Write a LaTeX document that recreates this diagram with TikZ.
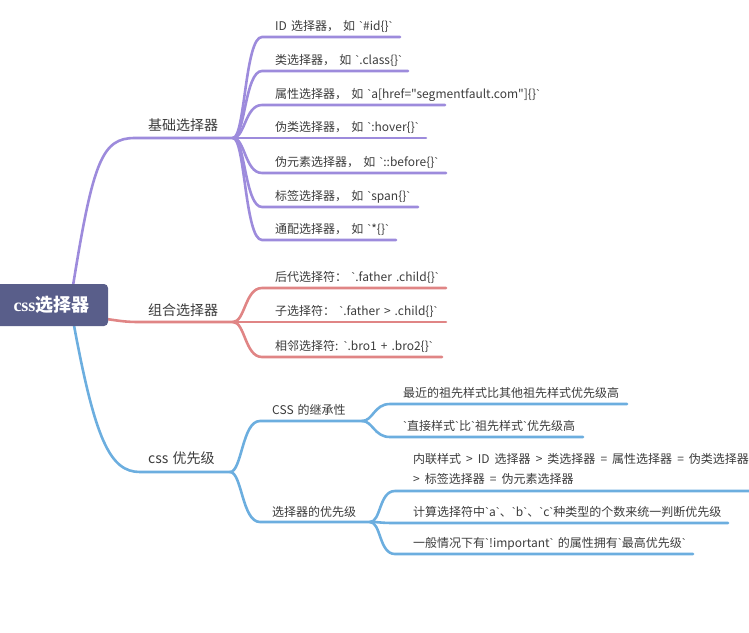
\documentclass[tikz,border=0pt]{standalone}
\usepackage{fontspec}
\setmainfont{Noto Sans CJK SC}[Ligatures=TeXOff]
\newfontfamily\rootlat{Liberation Serif}[Ligatures=TeXOff]
\newfontfamily\btfont{Liberation Sans}[Ligatures=TeXOff]
\newcommand\bq{{\btfont\char96}}
\newcommand\leaffont{\fontsize{12}{20}\selectfont\spaceskip 0.34em\relax}
\newcommand\widefont{\fontsize{12}{20}\selectfont\spaceskip 0.42em\relax}
\newcommand\onefont{\fontsize{14}{16}\selectfont\spaceskip 0.3em\relax}
\definecolor{pur}{HTML}{9D8BDC}
\definecolor{redb}{HTML}{E08585}
\definecolor{blu}{HTML}{6CAEDF}
\definecolor{rootc}{HTML}{595E8A}
\definecolor{txt}{HTML}{3C3C3C}
\begin{document}
\begin{tikzpicture}[x=1pt,y=-1pt,
  br/.style={line width=2.6pt, line cap=round},
  leaf/.style={anchor=base west, inner sep=0pt, text=txt, font=\leaffont},
  lvlone/.style={anchor=base west, inner sep=0pt, text=txt, font=\onefont},
  rootbox/.style={fill=rootc, rounded corners=4pt, minimum width=113pt, minimum height=42pt, inner sep=0pt, text=white, font=\fontsize{18}{20}\selectfont\bfseries}]
\useasboundingbox (0,0) rectangle (749,632);

% ---------- coordinates
\coordinate (rt) at (72,292);
\coordinate (rr) at (100,318);
\coordinate (rb) at (73,320);
\coordinate (P) at (233,138);
\coordinate (R) at (233,322);
\coordinate (B) at (230,472);
\coordinate (I) at (362,421);
\coordinate (S) at (370,522);

% purple leaves
\foreach \n/\y/\e in {p1/37/400,p2/71/408,p3/105/445,p4/138/426,p5/173/446,p6/207/418,p7/240/396}{
  \coordinate (\n s) at (262,\y);
  \coordinate (\n e) at (\e,\y);
}
% red leaves
\foreach \n/\y/\e in {r1/288/446,r2/322/446,r3/357/442}{
  \coordinate (\n s) at (262,\y);
  \coordinate (\n e) at (\e,\y);
}
\coordinate (i1s) at (390,404); \coordinate (i1e) at (627,404);
\coordinate (i2s) at (390,437); \coordinate (i2e) at (583,437);
\coordinate (s1s) at (395,491); \coordinate (s1e) at (749,491);
\coordinate (s2s) at (395,523); \coordinate (s2e) at (728,523);
\coordinate (s3s) at (395,554); \coordinate (s3e) at (693,554);
\coordinate (Is) at (260,421);
\coordinate (Ss) at (260,522);

% ---------- main branches
\draw[br, pur] (rt) .. controls (93,160) and (102,138) .. (135,138) -- (P);
\draw[br, redb] (rr) .. controls (120,321) and (125,322) .. (140,322) -- (R);
\draw[br, blu] (rb) .. controls (95,440) and (110,472) .. (140,472) -- (B);

% ---------- purple fan
\foreach \n in {p1,p2,p3,p4,p5,p6,p7}{
  \draw[br, pur] (P) .. controls +(12,0) and +(-17,0) .. (\n s) -- (\n e);
}
% ---------- red fan
\foreach \n in {r1,r2,r3}{
  \draw[br, redb] (R) .. controls +(12,0) and +(-17,0) .. (\n s) -- (\n e);
}
% ---------- blue
\draw[br, blu] (B) .. controls +(12,0) and +(-18,0) .. (Is) -- (I);
\draw[br, blu] (B) .. controls +(12,0) and +(-18,0) .. (Ss) -- (S);
\foreach \n in {i1,i2}{
  \draw[br, blu] (I) .. controls +(11,0) and +(-16,0) .. (\n s) -- (\n e);
}
\foreach \n in {s1,s2,s3}{
  \draw[br, blu] (S) .. controls +(11,0) and +(-16,0) .. (\n s) -- (\n e);
}

% ---------- root
\node[rootbox] (root) at (51.5,305) {{\rootlat css}选择器};

% ---------- level one labels
\node[lvlone] (l1) at (148,130.3) {基础选择器};
\node[lvlone] (l2) at (148,315.3) {组合选择器};
\node[lvlone] (l3) at (148,463.3) {css 优先级};

% ---------- purple texts
\node[leaf] (tp1) at (275,30) {ID 选择器， 如 \bq\#id\{\}\bq};
\node[leaf] (tp2) at (275,64) {类选择器， 如 \bq.class\{\}\bq};
\node[leaf] (tp3) at (275,98) {属性选择器， 如 \bq a[href="segmentfault.com"]\{\}\bq};
\node[leaf] (tp4) at (275,131) {伪类选择器， 如 \bq:hover\{\}\bq};
\node[leaf] (tp5) at (275,166) {伪元素选择器， 如 \bq::before\{\}\bq};
\node[leaf] (tp6) at (275,200) {标签选择器， 如 \bq span\{\}\bq};
\node[leaf] (tp7) at (275,233) {通配选择器， 如 \bq*\{\}\bq};

% ---------- red texts
\node[leaf] (tr1) at (275,281) {后代选择符： \bq.father .child\{\}\bq};
\node[leaf] (tr2) at (275,315) {子选择符： \bq.father > .child\{\}\bq};
\node[leaf] (tr3) at (275,350) {相邻选择符: \bq.bro1 + .bro2\{\}\bq};

% ---------- blue texts
\node[leaf] (ti) at (272,414.6) {CSS 的继承性};
\node[leaf] (ts) at (272,516.6) {选择器的优先级};
\node[leaf] (ti1) at (403,397.6) {最近的祖先样式比其他祖先样式优先级高};
\node[leaf] (ti2) at (403,430) {\bq 直接样式\bq 比\bq 祖先样式\bq 优先级高};
\node[leaf, align=left, font=\widefont] (ts1) at (413,483.6) {内联样式 > ID 选择器 > 类选择器 = 属性选择器 = 伪类选择器\\> 标签选择器 = 伪元素选择器};
\node[leaf] (ts2) at (413,516.6) {计算选择符中\bq a\bq 、\bq b\bq 、\bq c\bq 种类型的个数来统一判断优先级};
\node[leaf] (ts3) at (413,547.6) {一般情况下有\bq!important\bq{} 的属性拥有\bq 最高优先级\bq};
\end{tikzpicture}
\end{document}
